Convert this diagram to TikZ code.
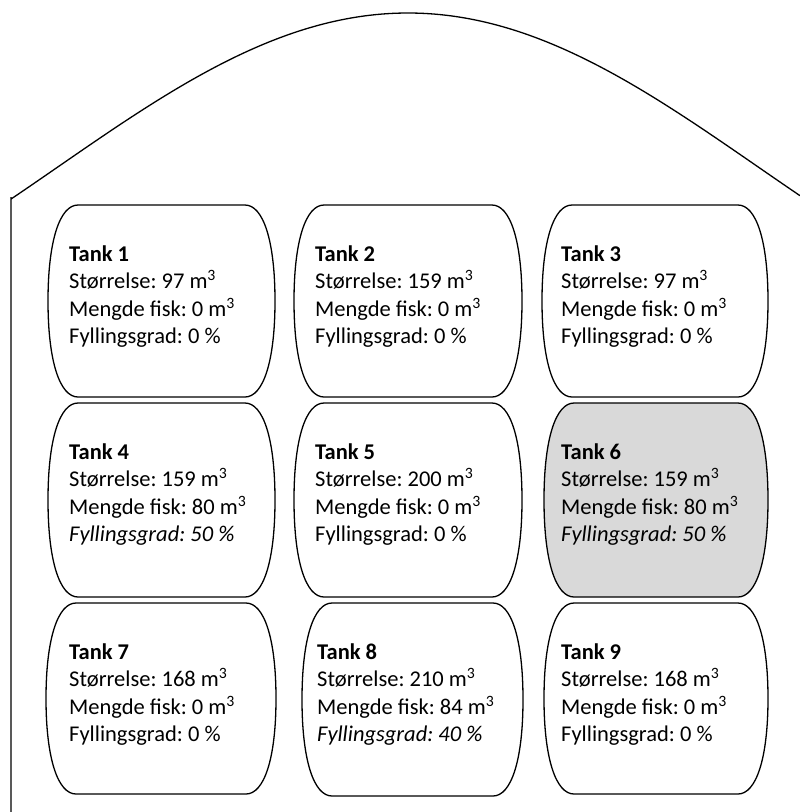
\documentclass[tikz,border=0pt]{standalone}
\usepackage{fontspec}
\setmainfont{Carlito}
\frenchspacing
\definecolor{tankgray}{HTML}{D9D9D9}
\tikzset{
  wall/.style={line width=1.3pt, draw=black},
  tankline/.style={line width=1.3pt, draw=black},
  tanktext/.style={anchor=base west, inner sep=0pt, font=\fontsize{22.5}{27.5}\selectfont},
}
% L R T B fill
\newcommand\tankbody[5]{%
  \filldraw[tankline, fill=#5] ({#1+30},#3) -- ({#2-30},#3)
    .. controls ({#2-12},#3) and (#2,{#3+35}) .. (#2,{(#3+#4)/2})
    .. controls (#2,{#4-35}) and ({#2-12},#4) .. ({#2-30},#4)
    -- ({#1+30},#4)
    .. controls ({#1+12},#4) and (#1,{#4-35}) .. (#1,{(#3+#4)/2})
    .. controls (#1,{#3+35}) and ({#1+12},#3) .. cycle;}
\newcommand\tanktxt[4]{\parbox[t]{240pt}{\raggedright\frenchspacing\textbf{#1}\\Størrelse: #2 m\textsuperscript{3}\\Mengde fisk: #3 m\textsuperscript{3}\\#4}}
\begin{document}
\begin{tikzpicture}[x=1pt,y=-1pt]
\useasboundingbox (0,0) rectangle (800,812);
% house outline
\draw[wall] (11,812) -- (11,197) -- plot[domain=11:800, samples=150, smooth] (\x, {13 + 153.85*(1-cos((\x-408)*0.257143))});
% tanks
\tankbody{48}{275}{205}{397}{white}
\tankbody{294}{522}{205}{397}{white}
\tankbody{542}{768}{205}{397}{white}
\tankbody{48}{275}{403}{597}{white}
\tankbody{294}{522}{403}{597}{white}
\tankbody{544}{768}{403}{597}{tankgray}
\tankbody{46}{276}{603}{794}{white}
\tankbody{302}{523}{603}{796}{white}
\tankbody{544}{768}{603}{794}{white}
% texts
\node[tanktext] (t1) at (69,261) {\tanktxt{Tank 1}{97}{0}{Fyllingsgrad: 0 \%}};
\node[tanktext] (t2) at (315,261) {\tanktxt{Tank 2}{159}{0}{Fyllingsgrad: 0 \%}};
\node[tanktext] (t3) at (561,261) {\tanktxt{Tank 3}{97}{0}{Fyllingsgrad: 0 \%}};
\node[tanktext] (t4) at (69,459) {\tanktxt{Tank 4}{159}{80}{\textit{Fyllingsgrad: 50 \%}}};
\node[tanktext] (t5) at (315,459) {\tanktxt{Tank 5}{200}{0}{Fyllingsgrad: 0 \%}};
\node[tanktext] (t6) at (561,459) {\tanktxt{Tank 6}{159}{80}{\textit{Fyllingsgrad: 50 \%}}};
\node[tanktext] (t7) at (69,659) {\tanktxt{Tank 7}{168}{0}{Fyllingsgrad: 0 \%}};
\node[tanktext] (t8) at (317,659) {\tanktxt{Tank 8}{210}{84}{\textit{Fyllingsgrad: 40 \%}}};
\node[tanktext] (t9) at (561,659) {\tanktxt{Tank 9}{168}{0}{Fyllingsgrad: 0 \%}};
\end{tikzpicture}
\end{document}
